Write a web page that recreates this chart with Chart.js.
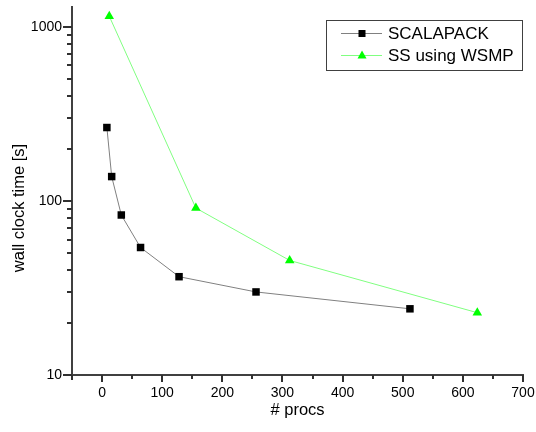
<!DOCTYPE html>
<html>
<head>
<meta charset="utf-8">
<script src="https://cdn.jsdelivr.net/npm/chart.js@4.4.0/dist/chart.umd.min.js"></script>
<style>
    html, body { margin: 0; padding: 0; background: #fff; }
    #wrap { width: 536px; height: 432px; }
</style>
</head>
<body>
<div id="wrap"><canvas id="chart_canvas"></canvas></div>
<script>
const scalapackProcs = [8, 16, 32, 64, 128, 256, 512];
const scalapackTime = [264, 138, 83, 54, 36.7, 30, 24];
const wsmpProcs = [12, 156, 312, 624];
const wsmpTime = [1150, 91, 45.5, 22.8];

const xMajorTicks = [0, 100, 200, 300, 400, 500, 600, 700];
const xMinorTicks = [50, 150, 250, 350, 450, 550, 650];
const yMajorTicks = [10, 100, 1000];
const yMinorTicks = [20, 30, 40, 50, 60, 70, 80, 90, 200, 300, 400, 500, 600, 700, 800, 900];

const seriesNames = ['SCALAPACK', 'SS using WSMP'];

const axisColor = '#404040';
const tickFont = { family: 'Liberation Sans, Arial', size: 14 };

function segment(ctx, x1, y1, x2, y2) {
    ctx.beginPath();
    ctx.moveTo(x1, y1);
    ctx.lineTo(x2, y2);
    ctx.stroke();
}

// tick marks, axis titles and the framed legend
const extrasPlugin = {
    id: 'extras',
    afterDraw(chart) {
        const ctx = chart.ctx;
        const xs = chart.scales.x;
        const ys = chart.scales.y;
        const area = chart.chartArea;
        const bottom = area.bottom;
        const left = area.left;
        ctx.save();
        ctx.strokeStyle = '#303030';
        ctx.lineWidth = 2;
        xMajorTicks.forEach(v => {
            const px = Math.round(xs.getPixelForValue(v));
            segment(ctx, px, bottom, px, bottom + 7);
        });
        xMinorTicks.forEach(v => {
            const px = Math.round(xs.getPixelForValue(v));
            segment(ctx, px, bottom, px, bottom + 4);
        });
        yMajorTicks.forEach(v => {
            const py = Math.round(ys.getPixelForValue(v));
            segment(ctx, left, py, left - 9, py);
        });
        yMinorTicks.forEach(v => {
            const py = Math.round(ys.getPixelForValue(v));
            segment(ctx, left, py, left - 5, py);
        });
        segment(ctx, left, bottom, left, bottom + 5);

        ctx.fillStyle = '#000';
        ctx.font = '16.5px "Liberation Sans", Arial';
        ctx.textAlign = 'center';
        ctx.textBaseline = 'alphabetic';
        ctx.fillText('# procs', (area.left + area.right) / 2, 415);
        ctx.save();
        ctx.translate(24, 208);
        ctx.rotate(-Math.PI / 2);
        ctx.fillText('wall clock time [s]', 0, 0);
        ctx.restore();

        // legend
        ctx.strokeStyle = '#404040';
        ctx.lineWidth = 1;
        ctx.strokeRect(326.5, 20.5, 196, 50);
        const rows = [33, 55];
        chart.data.datasets.forEach((ds, i) => {
            const ly = rows[i];
            ctx.strokeStyle = ds.borderColor;
            ctx.lineWidth = 1;
            segment(ctx, 341, ly + 0.5, 382, ly + 0.5);
            ctx.fillStyle = ds.pointBackgroundColor;
            if (ds.pointStyle === 'rect') {
                ctx.fillRect(358.5, ly - 3, 7, 7);
            } else {
                ctx.beginPath();
                ctx.moveTo(362, ly - 4.5);
                ctx.lineTo(366.5, ly + 3.5);
                ctx.lineTo(357.5, ly + 3.5);
                ctx.closePath();
                ctx.fill();
            }
            ctx.fillStyle = '#000';
            ctx.font = '17px "Liberation Sans", Arial';
            ctx.textAlign = 'left';
            ctx.textBaseline = 'middle';
            ctx.fillText(ds.label, 388, ly + 1);
        });
        ctx.restore();
    }
};

new Chart(document.getElementById('chart_canvas'), {
    type: 'line',
    data: {
        datasets: [{
            label: seriesNames[0],
            data: scalapackProcs.map((p, i) => ({ x: p, y: scalapackTime[i] })),
            borderColor: '#808080',
            borderWidth: 1,
            pointStyle: 'rect',
            pointRadius: 5.3,
            pointBackgroundColor: '#000',
            pointBorderColor: '#000',
            pointBorderWidth: 0
        }, {
            label: seriesNames[1],
            data: wsmpProcs.map((p, i) => ({ x: p, y: wsmpTime[i] })),
            borderColor: '#80ff80',
            borderWidth: 1,
            pointStyle: 'triangle',
            pointRadius: 5.5,
            pointBackgroundColor: '#00ff00',
            pointBorderColor: '#00ff00',
            pointBorderWidth: 0
        }]
    },
    options: {
        responsive: true,
        maintainAspectRatio: false,
        animation: false,
        events: [],
        layout: { padding: { left: 0, top: 7, right: 13, bottom: 0 } },
        plugins: {
            legend: { display: false },
            tooltip: { enabled: false }
        },
        scales: {
            x: {
                type: 'linear',
                min: -50,
                max: 700,
                afterFit(scale) {
                    scale.height = 57;
                    scale.paddingLeft = 0;
                    scale.paddingRight = 0;
                },
                afterBuildTicks(scale) {
                    scale.ticks = xMajorTicks.map(v => ({ value: v }));
                },
                border: { color: axisColor, width: 2 },
                grid: { drawOnChartArea: false, tickLength: 7, tickColor: 'rgba(0,0,0,0)' },
                ticks: { autoSkip: false, maxRotation: 0, color: '#000', font: tickFont, padding: 3 }
            },
            y: {
                type: 'logarithmic',
                min: 10,
                max: 1300,
                afterFit(scale) {
                    scale.width = 72;
                    scale.paddingTop = 0;
                    scale.paddingBottom = 0;
                },
                afterBuildTicks(scale) {
                    scale.ticks = yMajorTicks.map(v => ({ value: v }));
                },
                border: { color: axisColor, width: 2 },
                grid: { drawOnChartArea: false, tickLength: 9, tickColor: 'rgba(0,0,0,0)' },
                ticks: {
                    autoSkip: false,
                    color: '#000',
                    font: tickFont,
                    padding: 1,
                    callback: v => String(v)
                }
            }
        }
    },
    plugins: [extrasPlugin]
});
</script>
</body>
</html>
